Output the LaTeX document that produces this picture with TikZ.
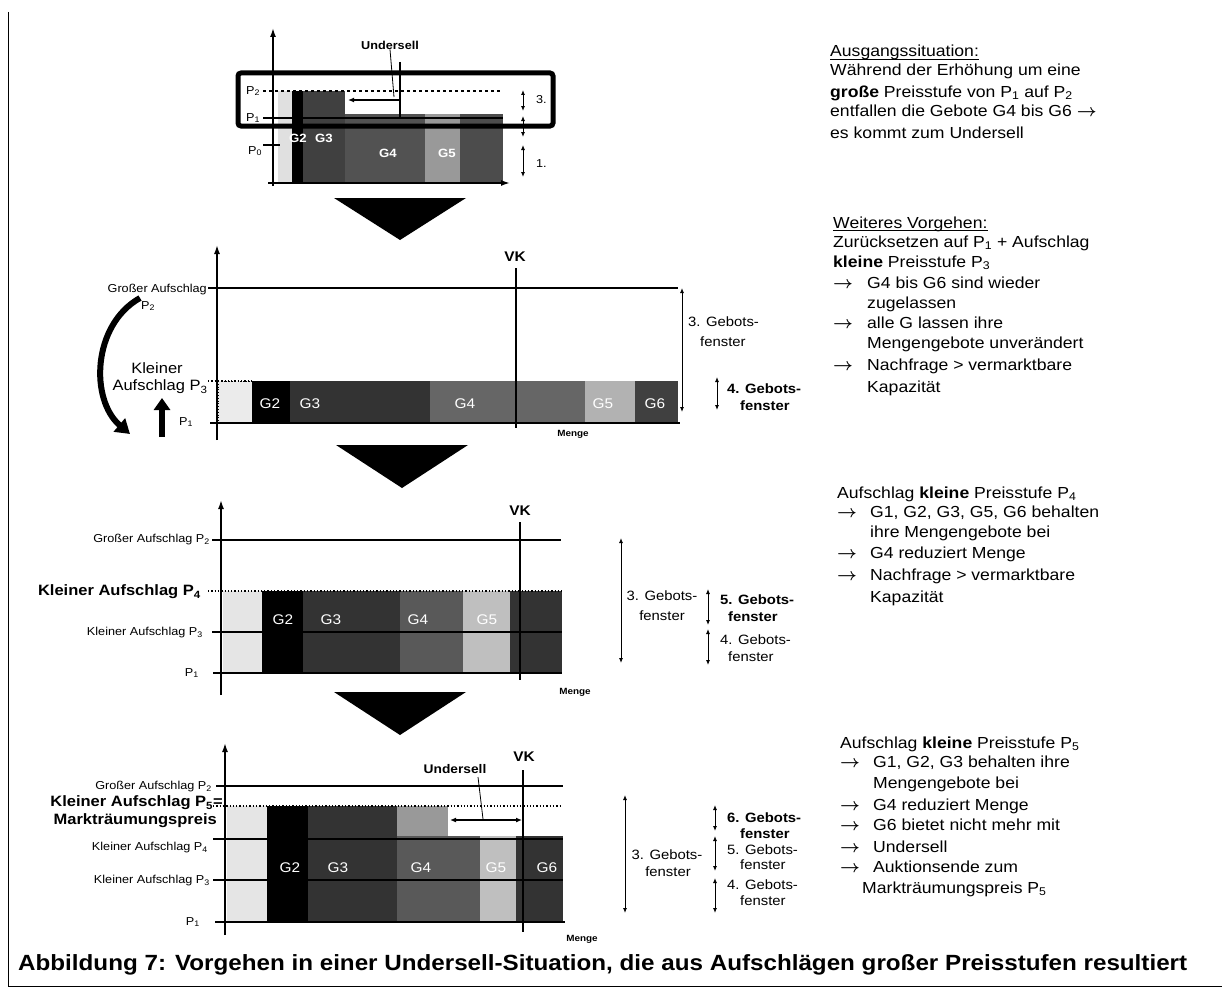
\documentclass[tikz,border=0pt]{standalone}
\usepackage{fontspec}
\setmainfont{Liberation Sans}[FakeStretch=1.1]
\usetikzlibrary{arrows.meta}
\newcommand{\Pn}[1]{P\textsubscript{#1}}
\newcommand{\ar}{{\boldmath$\rightarrow$}}
\begin{document}
\begin{tikzpicture}[x=1pt,y=-1pt,
  axis/.style={line width=1.6pt,-{Latex[length=9pt,width=6pt]}},
  lvl/.style={line width=1.3pt},
  dotl/.style={line width=1.3pt,dotted},
  dbl/.style={line width=0.9pt,{Latex[length=5pt,width=4pt]}-{Latex[length=5pt,width=4pt]}},
  sml/.style={font=\fontsize{11.5}{13}\selectfont,inner sep=0pt},
  bl/.style={font=\fontsize{15}{17}\bfseries\selectfont,inner sep=0pt},
  gl/.style={font=\fontsize{14}{16}\selectfont,text=white,inner sep=0pt},
  gw/.style={font=\fontsize{13.5}{16}\selectfont,inner sep=0pt},
  gb/.style={font=\fontsize{13.5}{16}\bfseries\selectfont,inner sep=0pt},
  txt/.style={font=\fontsize{16}{19}\selectfont,anchor=base west,inner sep=0pt},
  vk/.style={line width=2.2pt},
  lab/.style={font=\fontsize{14}{16}\bfseries\selectfont,inner sep=0pt},
  mg/.style={font=\fontsize{9}{10}\bfseries\selectfont,inner sep=0pt},
  ul/.style={line width=0.9pt},
]
\useasboundingbox (0,0) rectangle (1224,998);
\fill[white] (0,0) rectangle (1224,998);
% frame
\draw[line width=1pt] (8,12) -- (8,986) -- (1222,986);

% ================= Panel 1 =================
\fill[black!12] (278,91) rectangle (292,183);
\fill[black] (292,91) rectangle (303,183);
\fill[black!75] (303,91) rectangle (345,183);
\fill[black!68] (345,114) rectangle (425,183);
\fill[black!40] (425,114) rectangle (460,183);
\fill[black!70] (460,114) rectangle (503,183);
\draw[lvl,dashed] (263,91) -- (500,91);
\draw[lvl] (263,118) -- (503,118);
\draw[lvl] (263,145) -- (280,145);
\draw[line width=5pt,rounded corners=3pt] (238,73) rectangle (553,126);
\draw[axis] (273,186) -- (273,28);
\draw[axis] (268,183) -- (510,183);
\node[sml] (p1P2) at (253,91) {\Pn{2}};
\node[sml] (p1P1) at (253,118) {\Pn{1}};
\node[sml] (p1P0) at (255,151) {\Pn{0}};
\node[gl,font=\fontsize{12}{14}\bfseries\selectfont] (p1G2) at (298,138) {G2};
\node[gl,font=\fontsize{12}{14}\bfseries\selectfont] (p1G3) at (324,138) {G3};
\node[gl,font=\fontsize{12}{14}\bfseries\selectfont] (p1G4) at (388,153) {G4};
\node[gl,font=\fontsize{12}{14}\bfseries\selectfont] (p1G5) at (447,153) {G5};
\coordinate (p1vkT) at (400,62);
\coordinate (p1vkB) at (400,118);
\draw[line width=1.3pt] (p1vkT) -- (p1vkB);
\coordinate (p1uR) at (400,100);
\coordinate (p1uL) at (348,100);
\draw[line width=1.3pt,-{Latex[length=6pt,width=5pt]}] (p1uR) -- (p1uL);
\node[gb,font=\fontsize{11.5}{13}\bfseries\selectfont] (p1U) at (390,45) {Undersell};
\coordinate (p1lead) at (394,97);
\draw[line width=0.8pt] (p1U.south) -- (p1lead);
\draw[dbl] (523,90) -- (523,111);
\draw[dbl] (523,116) -- (523,137);
\draw[dbl] (523,145) -- (523,177);
\node[sml,anchor=west] (p1n3) at (536,100) {3.};
\node[sml,anchor=west] (p1n1) at (536,164) {1.};

% triangle 1
\fill (334,198) -- (466,198) -- (400,240) -- cycle;

% ================= Panel 2 =================
\fill[black!8] (218,381) rectangle (252,423);
\draw[dotted,line width=0.8pt] (218,381) rectangle (252,423);
\fill[black] (252,381) rectangle (290,423);
\fill[black!80] (290,381) rectangle (430,423);
\fill[black!60] (430,381) rectangle (585,423);
\fill[black!30] (585,381) rectangle (635,423);
\fill[black!75] (635,381) rectangle (678,423);
\draw[dotl] (208,381) -- (252,381);
\draw[lvl] (208,288) -- (678,288);
\draw[lvl] (210,423) -- (680,423);
\draw[axis] (217,440) -- (217,245);
\draw[vk] (516,268) -- (516,428);
\node[gl] (p2G2) at (270,404) {G2};
\node[gl] (p2G3) at (310,404) {G3};
\node[gl] (p2G4) at (465,404) {G4};
\node[gl] (p2G5) at (603,404) {G5};
\node[gl] (p2G6) at (655,404) {G6};
\node[lab] (p2VK) at (515,257) {VK};
\node[mg] (p2M) at (573,434) {Menge};
\node[sml,anchor=east] (p2gA) at (207,290) {Großer Aufschlag};
\node[sml] (p2gP) at (148,306) {\Pn{2}};
\node[gw,font=\fontsize{15}{17}\selectfont] (p2k1) at (157,368) {Kleiner};
\node[gw,font=\fontsize{15}{17}\selectfont] (p2k2) at (160,387) {Aufschlag \Pn{3}};
\node[sml] (p2P1) at (186,422) {\Pn{1}};
\coordinate (p2upB) at (162,437);
\coordinate (p2upT) at (162,398);
\draw[line width=6pt,-{Triangle[length=12pt,width=16pt]}] (p2upB) -- (p2upT);
\coordinate (p2cS) at (140,298);
\coordinate (p2cE) at (130,434);
\draw[line width=6pt,-{Triangle[length=14pt,width=17pt]}] (p2cS) .. controls (92,325) and (90,400) .. (p2cE);
\draw[dbl] (682,288) -- (682,412);
\node[gw,anchor=west] (p2g3a) at (688,322) {3. Gebots-};
\node[gw,anchor=west] (p2g3b) at (700,342) {fenster};
\draw[dbl] (717,377) -- (717,410);
\node[gb,anchor=west] (p2g4a) at (727,389) {4. Gebots-};
\node[gb,anchor=west] (p2g4b) at (740,406) {fenster};

% triangle 2
\fill (336,445) -- (468,445) -- (402,488) -- cycle;

% ================= Panel 3 =================
\fill[black!10] (223,591) rectangle (262,673);
\fill[black] (262,591) rectangle (303,673);
\fill[black!80] (303,591) rectangle (400,673);
\fill[black!65] (400,591) rectangle (463,673);
\fill[black!25] (463,591) rectangle (510,673);
\fill[black!80] (510,591) rectangle (562,673);
\draw[dotl] (208,591) -- (562,591);
\draw[lvl] (212,632) -- (562,632);
\draw[lvl] (212,540) -- (561,540);
\draw[lvl] (213,673) -- (562,673);
\draw[axis] (221,695) -- (221,500);
\draw[vk] (520,522) -- (520,680);
\node[gl] (p3G2) at (283,620) {G2};
\node[gl] (p3G3) at (331,620) {G3};
\node[gl] (p3G4) at (418,620) {G4};
\node[gl] (p3G5) at (487,620) {G5};
\node[lab] (p3VK) at (520,511) {VK};
\node[mg] (p3M) at (575,692) {Menge};
\node[sml,anchor=east] (p3l1) at (210,540) {Großer Aufschlag \Pn{2}};
\node[bl,anchor=east] (p3l2) at (201,592) {Kleiner Aufschlag \Pn{4}};
\node[sml,anchor=east] (p3l3) at (203,633) {Kleiner Aufschlag \Pn{3}};
\node[sml,anchor=east] (p3l4) at (199,673) {\Pn{1}};
\draw[dbl] (621,538) -- (621,663);
\node[gw] (p3g3a) at (662,596) {3. Gebots-};
\node[gw] (p3g3b) at (662,616) {fenster};
\draw[dbl] (708,589) -- (708,625);
\node[gb,anchor=west] (p3g5a) at (720,600) {5. Gebots-};
\node[gb,anchor=west] (p3g5b) at (728,617) {fenster};
\draw[dbl] (708,629) -- (708,665);
\node[gw,anchor=west] (p3g4a) at (720,640) {4. Gebots-};
\node[gw,anchor=west] (p3g4b) at (728,657) {fenster};

% triangle 3
\fill (334,692) -- (466,692) -- (400,735) -- cycle;

% ================= Panel 4 =================
\fill[black!10] (227,806) rectangle (267,922);
\fill[black] (267,806) rectangle (308,922);
\fill[black!80] (308,806) rectangle (397,922);
\fill[black!40] (397,806) rectangle (448,836);
\fill[black!65] (397,836) rectangle (480,922);
\fill[black!25] (480,836) rectangle (516,922);
\fill[black!80] (516,836) rectangle (563,922);
\draw[dotl] (213,806) -- (560,806);
\draw[lvl] (213,839) -- (563,839);
\draw[lvl] (213,880) -- (563,880);
\draw[lvl] (216,786) -- (563,786);
\draw[lvl] (215,922) -- (565,922);
\draw[axis] (225,935) -- (225,743);
\draw[vk] (523,770) -- (523,932);
\node[gl] (p4G2) at (290,868) {G2};
\node[gl] (p4G3) at (338,868) {G3};
\node[gl] (p4G4) at (421,868) {G4};
\node[gl] (p4G5) at (496,868) {G5};
\node[gl] (p4G6) at (547,868) {G6};
\coordinate (p4uL) at (450,820);
\coordinate (p4uR) at (522,820);
\draw[line width=1.3pt,{Latex[length=6pt,width=5pt]}-{Latex[length=6pt,width=5pt]}] (p4uL) -- (p4uR);
\node[gb,font=\fontsize{12.5}{14}\bfseries\selectfont] (p4U) at (455,769) {Undersell};
\coordinate (p4lead) at (483,819);
\draw[line width=0.8pt] (478,777) -- (p4lead);
\node[lab] (p4VK) at (524,757) {VK};
\node[mg] (p4M) at (582,939) {Menge};
\node[sml,anchor=east] (p4l1) at (212,787) {Großer Aufschlag \Pn{2}};
\node[bl,anchor=east] (p4l2) at (223,803) {Kleiner Aufschlag \Pn{5}=};
\node[bl,anchor=east] (p4l3) at (217,821) {Markträumungspreis};
\node[sml,anchor=east] (p4l4) at (208,848) {Kleiner Aufschlag \Pn{4}};
\node[sml,anchor=east] (p4l5) at (210,881) {Kleiner Aufschlag \Pn{3}};
\node[sml,anchor=east] (p4l6) at (200,922) {\Pn{1}};
\draw[dbl] (625,795) -- (625,913);
\node[gw] (p4g3a) at (667,855) {3. Gebots-};
\node[gw] (p4g3b) at (668,872) {fenster};
\draw[dbl] (715,805) -- (715,831);
\node[gb,anchor=west] (p4g6a) at (727,818) {6. Gebots-};
\node[gb,anchor=west] (p4g6b) at (740,834) {fenster};
\draw[dbl] (715,836) -- (715,871);
\node[gw,anchor=west] (p4g5a) at (727,850) {5. Gebots-};
\node[gw,anchor=west] (p4g5b) at (740,865) {fenster};
\draw[dbl] (715,878) -- (715,913);
\node[gw,anchor=west] (p4g4a) at (727,885) {4. Gebots-};
\node[gw,anchor=west] (p4g4b) at (740,901) {fenster};

% ================= Right texts =================
\node[txt] (t1a) at (830,57) {Ausgangssituation:};
\draw[ul] ([yshift=-2pt]t1a.base west) -- ([yshift=-2pt]t1a.base east);
\node[txt] (t1b) at (830,76) {Während der Erhöhung um eine};
\node[txt] (t1c) at (830,97) {\textbf{große} Preisstufe von \Pn{1} auf \Pn{2}};
\node[txt] (t1d) at (830,117) {entfallen die Gebote G4 bis G6 \ar};
\node[txt] (t1e) at (830,138) {es kommt zum Undersell};

\node[txt] (t2a) at (833,228) {Weiteres Vorgehen:};
\draw[ul] ([yshift=-2pt]t2a.base west) -- ([yshift=-2pt]t2a.base east);
\node[txt] (t2b) at (833,247) {Zurücksetzen auf \Pn{1} + Aufschlag};
\node[txt] (t2c) at (833,267) {\textbf{kleine} Preisstufe \Pn{3}};
\node[txt] (t2d0) at (833,288) {\ar};
\node[txt] (t2d) at (867,288) {G4 bis G6 sind wieder};
\node[txt] (t2e) at (867,308) {zugelassen};
\node[txt] (t2f0) at (833,328) {\ar};
\node[txt] (t2f) at (867,328) {alle G lassen ihre};
\node[txt] (t2g) at (867,348) {Mengengebote unverändert};
\node[txt] (t2h0) at (833,370) {\ar};
\node[txt] (t2h) at (867,370) {Nachfrage > vermarktbare};
\node[txt] (t2i) at (867,392) {Kapazität};

\node[txt] (t3a) at (837,498) {Aufschlag \textbf{kleine} Preisstufe \Pn{4}};
\node[txt] (t3b0) at (837,517) {\ar};
\node[txt] (t3b) at (870,517) {G1, G2, G3, G5, G6 behalten};
\node[txt] (t3c) at (870,537) {ihre Mengengebote bei};
\node[txt] (t3d0) at (837,558) {\ar};
\node[txt] (t3d) at (870,558) {G4 reduziert Menge};
\node[txt] (t3e0) at (837,580) {\ar};
\node[txt] (t3e) at (870,580) {Nachfrage > vermarktbare};
\node[txt] (t3f) at (870,602) {Kapazität};

\node[txt] (t4a) at (840,748) {Aufschlag \textbf{kleine} Preisstufe \Pn{5}};
\node[txt] (t4b0) at (840,767) {\ar};
\node[txt] (t4b) at (873,767) {G1, G2, G3 behalten ihre};
\node[txt] (t4c) at (873,788) {Mengengebote bei};
\node[txt] (t4d0) at (840,810) {\ar};
\node[txt] (t4d) at (873,810) {G4 reduziert Menge};
\node[txt] (t4e0) at (840,830) {\ar};
\node[txt] (t4e) at (873,830) {G6 bietet nicht mehr mit};
\node[txt] (t4f0) at (840,852) {\ar};
\node[txt] (t4f) at (873,852) {Undersell};
\node[txt] (t4g0) at (840,872) {\ar};
\node[txt] (t4g) at (873,872) {Auktionsende zum};
\node[txt] (t4h) at (862,893) {Markträumungspreis \Pn{5}};

% caption
\node[anchor=base west,inner sep=0pt,font=\fontsize{22}{26}\bfseries\selectfont] (cap) at (18,970) {Abbildung 7: Vorgehen in einer Undersell-Situation, die aus Aufschlägen großer Preisstufen resultiert};
\end{tikzpicture}
\end{document}
